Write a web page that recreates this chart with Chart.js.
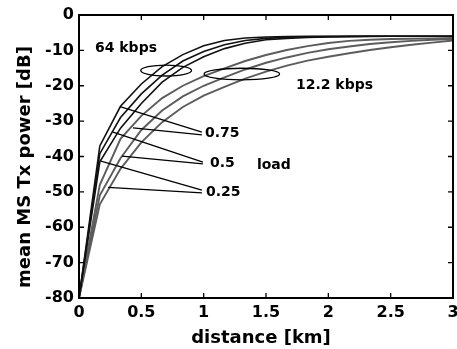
<!DOCTYPE html>
<html><head><meta charset="utf-8">
<script src="https://cdn.jsdelivr.net/npm/chart.js@4"></script>
<style>html,body{margin:0;padding:0;background:#fff;}</style>
</head><body>
<canvas id="c" width="457" height="349"></canvas>
<script>
// ---- data ----
const distance = [0, 0.167, 0.333, 0.5, 0.667, 0.833, 1.0, 1.167, 1.333, 1.5, 1.667, 1.833, 2.0, 2.167, 2.333, 2.5, 2.667, 2.833, 3.0];
const tx64_load075 = [-80, -37, -25.8, -19.5, -14.6, -11.2, -8.7, -7.2, -6.5, -6.2, -6.1, -6.05, -6.0, -6.0, -6.0, -6.0, -6.0, -6.0, -6.0];
const tx64_load050 = [-80, -39.2, -29, -22.3, -17, -13, -10.3, -8.4, -7.2, -6.6, -6.3, -6.15, -6.1, -6.05, -6.0, -6.0, -6.0, -6.0, -6.0];
const tx64_load025 = [-80, -41.5, -32, -25, -19, -14.8, -11.8, -9.5, -8.0, -7.0, -6.6, -6.35, -6.2, -6.1, -6.05, -6.0, -6.0, -6.0, -6.0];
const tx122_load075 = [-80, -48, -35, -28.5, -23.5, -20, -17.3, -15.1, -13.0, -11.3, -9.9, -8.8, -7.9, -7.3, -7.0, -6.8, -6.7, -6.6, -6.5];
const tx122_load050 = [-80, -51, -40.5, -32.5, -27, -23, -20, -17.6, -15.4, -13.5, -12, -10.7, -9.7, -8.9, -8.2, -7.7, -7.3, -7.0, -6.8];
const tx122_load025 = [-80, -53.5, -43.5, -36, -30.3, -26, -22.8, -20.3, -18, -16, -14.3, -12.9, -11.8, -10.8, -9.9, -9.1, -8.4, -7.8, -7.2];
const xTicks = [0, 0.5, 1, 1.5, 2, 2.5, 3];
const yTicks = [-80, -70, -60, -50, -40, -30, -20, -10, 0];
const xTitle = 'distance [km]';
const yTitle = 'mean MS Tx power [dB]';

// annotations in data units (km, dB)
const connectorLines = [
  [[0.329, -25.9], [0.986, -33.1]],
  [[0.433, -31.9], [0.986, -33.9]],
  [[0.273, -33.1], [0.994, -41.6]],
  [[0.345, -39.9], [0.994, -42.1]],
  [[0.176, -41.3], [0.986, -49.5]],
  [[0.233, -48.7], [0.986, -50.3]]
];
const ellipses = [
  [0.699, -15.7, 0.204, 1.55],
  [1.306, -16.7, 0.303, 1.65]
];
const noteTexts = [
  ['64 kbps', 0.128, -9.3],
  ['12.2 kbps', 1.740, -19.8],
  ['0.75', 1.010, -33.4],
  ['0.5', 1.050, -41.8],
  ['0.25', 1.018, -50.0],
  ['load', 1.427, -42.4]
];

const FAM = "'DejaVu Sans', 'Liberation Sans', sans-serif";
const pts = arr => distance.map((d, i) => ({x: d, y: arr[i]}));
const BLACK = '#111111', GRAY = '#5c5c5c';
const ds = (arr, color, w) => ({data: pts(arr), borderColor: color, borderWidth: w, pointRadius: 0, tension: 0, fill: false});

const annot = {
  id: 'annot',
  afterDraw(chart) {
    const {ctx, chartArea: a} = chart;
    const xs = chart.scales.x, ys = chart.scales.y;
    const X = v => xs.getPixelForValue(v), Y = v => ys.getPixelForValue(v);
    ctx.save();
    ctx.strokeStyle = '#000';
    ctx.lineWidth = 1.3;
    connectorLines.forEach(([p, q]) => {
      ctx.beginPath(); ctx.moveTo(X(p[0]), Y(p[1])); ctx.lineTo(X(q[0]), Y(q[1])); ctx.stroke();
    });
    ellipses.forEach(([cx, cy, rx, ry]) => {
      ctx.beginPath();
      ctx.ellipse(X(cx), Y(cy), Math.abs(X(cx + rx) - X(cx)), Math.abs(Y(cy - ry) - Y(cy)), 0, 0, Math.PI * 2);
      ctx.stroke();
    });
    ctx.fillStyle = '#000';
    ctx.font = 'bold 14px ' + FAM;
    ctx.textAlign = 'left'; ctx.textBaseline = 'middle';
    noteTexts.forEach(([t, x, y]) => ctx.fillText(t, X(x), Y(y)));
    // frame
    ctx.lineWidth = 2;
    ctx.strokeRect(a.left, a.top, a.right - a.left, a.bottom - a.top);
    // inside ticks
    ctx.lineWidth = 1.3;
    const L = 5;
    xTicks.forEach(v => {
      const px = X(v);
      ctx.beginPath(); ctx.moveTo(px, a.bottom); ctx.lineTo(px, a.bottom - L);
      ctx.moveTo(px, a.top); ctx.lineTo(px, a.top + L); ctx.stroke();
    });
    yTicks.forEach(v => {
      const py = Y(v);
      ctx.beginPath(); ctx.moveTo(a.left, py); ctx.lineTo(a.left + L, py);
      ctx.moveTo(a.right, py); ctx.lineTo(a.right - L, py); ctx.stroke();
    });
    // axis titles
    ctx.font = 'bold 18px ' + FAM;
    ctx.textAlign = 'center'; ctx.textBaseline = 'middle';
    ctx.fillText(xTitle, 261, 338);
    ctx.translate(25, 167);
    ctx.rotate(-Math.PI / 2);
    ctx.fillText(yTitle, 0, 0);
    ctx.restore();
  }
};

new Chart(document.getElementById('c'), {
  type: 'line',
  data: {
    datasets: [
      ds(tx64_load075, BLACK, 1.6),
      ds(tx64_load050, BLACK, 1.6),
      ds(tx64_load025, BLACK, 1.6),
      ds(tx122_load075, GRAY, 1.9),
      ds(tx122_load050, GRAY, 1.9),
      ds(tx122_load025, GRAY, 1.9)
    ]
  },
  options: {
    responsive: false,
    animation: false,
    devicePixelRatio: 1,
    layout: {padding: {left: 0, right: 4, top: 15, bottom: 0}},
    plugins: {legend: {display: false}, tooltip: {enabled: false}},
    scales: {
      x: {
        type: 'linear', min: 0, max: 3,
        afterBuildTicks: s => { s.ticks = xTicks.map(v => ({value: v})); },
        afterFit: s => { s.height = 51; s.paddingLeft = 0; s.paddingRight = 0; },
        grid: {display: false, drawTicks: false, tickLength: 0},
        border: {display: false},
        ticks: {color: '#000', padding: 5, maxRotation: 0, autoSkip: false, font: {family: FAM, size: 16, weight: 'bold'}, callback: v => String(v)}
      },
      y: {
        type: 'linear', min: -80, max: 0,
        afterBuildTicks: s => { s.ticks = yTicks.map(v => ({value: v})); },
        afterFit: s => { s.width = 79; s.paddingTop = 0; s.paddingBottom = 0; },
        grid: {display: false, drawTicks: false, tickLength: 0},
        border: {display: false},
        ticks: {color: '#000', padding: 5, autoSkip: false, font: {family: FAM, size: 16, weight: 'bold'}, callback: v => String(v)}
      }
    }
  },
  plugins: [annot]
});
</script>
</body></html>
